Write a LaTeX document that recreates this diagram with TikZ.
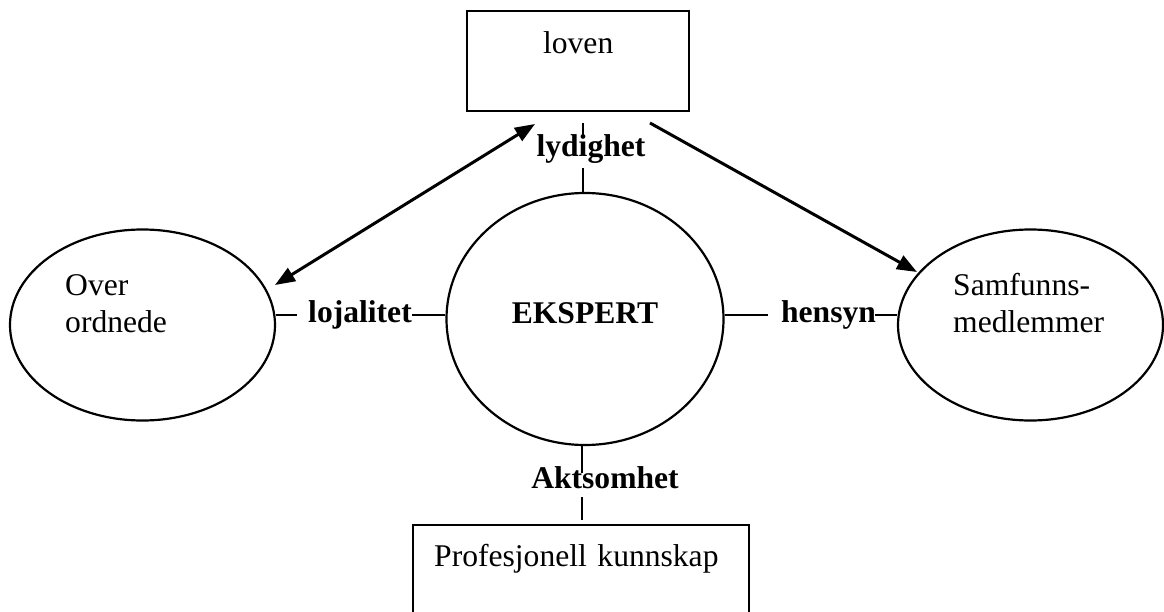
\documentclass[tikz,border=0pt]{standalone}
\usepackage{fontspec}
\setmainfont{Liberation Serif}
\usetikzlibrary{arrows.meta,shapes.geometric}
\begin{document}
\begin{tikzpicture}[x=1pt,y=-1pt,
  txt/.style={font=\fontsize{31.6}{37}\selectfont, inner sep=0pt},
  lbl/.style={font=\fontsize{31.6}{37}\selectfont\bfseries, inner sep=0pt, anchor=base},
  oval/.style={draw, line width=2.2pt, ellipse, inner sep=0pt},
  boxn/.style={draw, line width=2.4pt, rectangle},
  tick/.style={line width=1.8pt},
  arr/.style={line width=3pt, -{Triangle[length=20pt,width=15pt]}},
  arrboth/.style={line width=3pt, {Triangle[length=20pt,width=15pt]}-{Triangle[length=20pt,width=15pt]}}]
\clip (0,0) rectangle (1164,612);
\fill[white] (0,0) rectangle (1164,612);

% boxes
\node[txt, boxn, anchor=north west, minimum width=222pt, text height=42pt, text depth=58pt] (loven) at (466,10) {loven};
\node[txt, boxn, anchor=north west, inner xsep=21pt, inner ysep=0pt, text width=294pt, align=left, text height=41pt, text depth=60pt] (prof) at (412,524) {Profesjonell kunnskap};

% ellipses
\node[oval, minimum width=265pt, minimum height=191pt] (over) at (142.5,325) {};
\node[txt, anchor=base west] (overA) at (65,295) {Over};
\node[txt, anchor=base west] (overB) at (65,332) {ordnede};

\node[oval, minimum width=265pt, minimum height=191pt] (samf) at (1030.5,325) {};
\node[txt, anchor=base west] (samfA) at (953,295) {Samfunns-};
\node[txt, anchor=base west] (samfB) at (953,332) {medlemmer};

\node[oval, minimum width=277pt, minimum height=252pt, font=\fontsize{31.6}{37}\selectfont\bfseries, text height=29pt, text depth=21pt] (exp) at (585,319) {EKSPERT};

% labels
\node[lbl] (lyd) at (591,157) {lydighet};
\node[lbl] (loj) at (360,322) {lojalitet};
\node[lbl] (hen) at (828.5,322) {hensyn};
\node[lbl] (akt) at (605,488) {Aktsomhet};

% ticks
\coordinate (t1a) at (583,123);
\coordinate (t1b) at (583,135);
\coordinate (t2) at (583,168);
\coordinate (l1) at (297,315);
\coordinate (l2) at (412,315);
\coordinate (h1) at (768,315);
\coordinate (h2) at (875,315);
\coordinate (a1) at (582,473);
\coordinate (a2) at (582,497);
\coordinate (a3) at (582,520);
\draw[tick] (t1a) -- (t1b);
\draw[tick] (t2 |- exp.north) -- (t2);
\draw[tick] (l1 -| over.east) -- (l1);
\draw[tick] (l2) -- (l2 -| exp.west);
\draw[tick] (h1 -| exp.east) -- (h1);
\draw[tick] (h2) -- (h2 -| samf.west);
\draw[tick] (a1 |- exp.south) -- (a1);
\draw[tick] (a2) -- (a3);

% arrows
\coordinate (la) at (535,124);
\coordinate (lb) at (275,285);
\coordinate (ra) at (650,123);
\coordinate (rb) at (917,272);
\draw[arrboth] (la) -- (lb);
\draw[arr] (ra) -- (rb);
\end{tikzpicture}
\end{document}
